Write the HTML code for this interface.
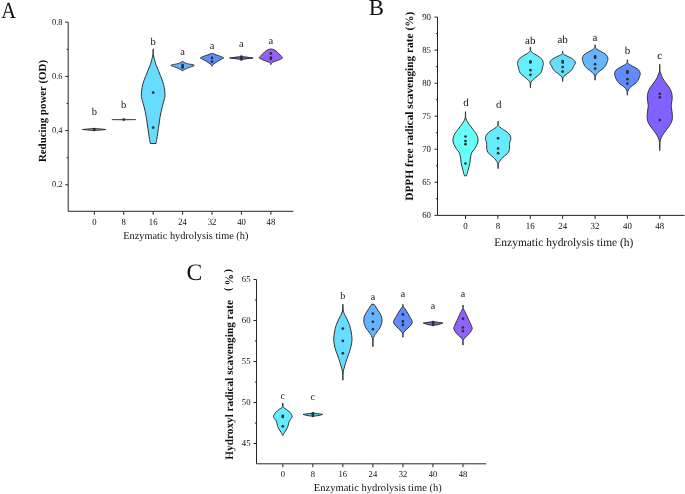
<!DOCTYPE html>
<html><head><meta charset="utf-8"><style>
html,body{margin:0;padding:0;background:#fff;width:685px;height:494px;overflow:hidden;}
svg{display:block;font-family:"Liberation Serif",serif;text-rendering:geometricPrecision;filter:blur(0.3px);}
</style></head><body><svg width="685" height="494" viewBox="0 0 685 494" font-family='"Liberation Serif", serif'><text x="0.00" y="0.00" font-size="23.20" text-anchor="start" font-weight="normal" fill="#111" stroke="#111" stroke-width="0.00" transform="translate(1.2 18.3) scale(0.885 1)">A</text><path d="M68.20 22.20 V211.30 H293.30" fill="none" stroke="#262626" stroke-width="1"/><path d="M65.20 22.20 H68.20" stroke="#262626" stroke-width="1"/><text x="0" y="0" font-size="8.90" text-anchor="end" fill="#111" stroke="#111" stroke-width="0" transform="translate(62.50 24.60) scale(0.950 1)">0.8</text><path d="M65.20 76.40 H68.20" stroke="#262626" stroke-width="1"/><text x="0" y="0" font-size="8.90" text-anchor="end" fill="#111" stroke="#111" stroke-width="0" transform="translate(62.50 78.80) scale(0.950 1)">0.6</text><path d="M65.20 130.60 H68.20" stroke="#262626" stroke-width="1"/><text x="0" y="0" font-size="8.90" text-anchor="end" fill="#111" stroke="#111" stroke-width="0" transform="translate(62.50 133.00) scale(0.950 1)">0.4</text><path d="M65.20 184.80 H68.20" stroke="#262626" stroke-width="1"/><text x="0" y="0" font-size="8.90" text-anchor="end" fill="#111" stroke="#111" stroke-width="0" transform="translate(62.50 187.20) scale(0.950 1)">0.2</text><path d="M66.60 49.30 H68.20" stroke="#262626" stroke-width="1"/><path d="M66.60 103.50 H68.20" stroke="#262626" stroke-width="1"/><path d="M66.60 157.70 H68.20" stroke="#262626" stroke-width="1"/><path d="M94.30 211.30 V214.80" stroke="#262626" stroke-width="1"/><text x="0" y="0" font-size="9.60" text-anchor="middle" fill="#111" stroke="#111" stroke-width="0" transform="translate(94.30 224.70) scale(0.900 1)">0</text><path d="M123.73 211.30 V214.80" stroke="#262626" stroke-width="1"/><text x="0" y="0" font-size="9.60" text-anchor="middle" fill="#111" stroke="#111" stroke-width="0" transform="translate(123.73 224.70) scale(0.900 1)">8</text><path d="M153.16 211.30 V214.80" stroke="#262626" stroke-width="1"/><text x="0" y="0" font-size="9.60" text-anchor="middle" fill="#111" stroke="#111" stroke-width="0" transform="translate(153.16 224.70) scale(0.900 1)">16</text><path d="M182.59 211.30 V214.80" stroke="#262626" stroke-width="1"/><text x="0" y="0" font-size="9.60" text-anchor="middle" fill="#111" stroke="#111" stroke-width="0" transform="translate(182.59 224.70) scale(0.900 1)">24</text><path d="M212.02 211.30 V214.80" stroke="#262626" stroke-width="1"/><text x="0" y="0" font-size="9.60" text-anchor="middle" fill="#111" stroke="#111" stroke-width="0" transform="translate(212.02 224.70) scale(0.900 1)">32</text><path d="M241.45 211.30 V214.80" stroke="#262626" stroke-width="1"/><text x="0" y="0" font-size="9.60" text-anchor="middle" fill="#111" stroke="#111" stroke-width="0" transform="translate(241.45 224.70) scale(0.900 1)">40</text><path d="M270.88 211.30 V214.80" stroke="#262626" stroke-width="1"/><text x="0" y="0" font-size="9.60" text-anchor="middle" fill="#111" stroke="#111" stroke-width="0" transform="translate(270.88 224.70) scale(0.900 1)">48</text><text x="185.80" y="238.80" font-size="10.32" text-anchor="middle" font-weight="normal" fill="#111" stroke="#111" stroke-width="0.00" >Enzymatic hydrolysis time (h)</text><text x="45.60" y="111.00" font-size="10.92" text-anchor="middle" font-weight="bold" fill="#111" stroke="#111" stroke-width="0.00" transform="rotate(-90 45.6 111.0)">Reducing power (OD)</text><path d="M82.40 129.50 Q94.20 127.50 106.00 129.50 Q94.20 131.50 82.40 129.50 Z" fill="#66e4ff" stroke="#333333" stroke-width="1" stroke-linejoin="round"/><circle cx="94.20" cy="129.00" r="1.35" fill="#2e2e2e"/><circle cx="94.20" cy="130.00" r="1.35" fill="#2e2e2e"/><path d="M111.90 119.60 Q123.80 119.10 135.70 119.60 Q123.80 120.10 111.90 119.60 Z" fill="#777" stroke="#555" stroke-width="1" stroke-linejoin="round"/><circle cx="123.80" cy="119.60" r="1.35" fill="#2e2e2e"/><path d="M153.28 48.90 C153.29 49.42 153.30 50.98 153.32 52.00 C153.34 53.02 153.20 53.75 153.40 55.00 C153.60 56.25 154.06 57.82 154.51 59.50 C154.96 61.18 155.46 63.25 156.11 65.10 C156.76 66.95 157.66 68.75 158.41 70.60 C159.16 72.45 159.88 74.33 160.61 76.20 C161.34 78.07 162.21 79.93 162.81 81.80 C163.41 83.67 163.86 85.53 164.21 87.40 C164.56 89.27 164.79 91.48 164.91 93.00 C165.03 94.52 165.06 95.23 164.91 96.50 C164.76 97.77 164.43 98.98 164.01 100.60 C163.59 102.22 162.89 104.35 162.41 106.20 C161.93 108.05 161.51 109.85 161.11 111.70 C160.71 113.55 160.33 115.43 160.01 117.30 C159.69 119.17 159.48 121.03 159.21 122.90 C158.94 124.77 158.68 126.65 158.41 128.50 C158.14 130.35 157.89 132.15 157.61 134.00 C157.33 135.85 156.98 138.02 156.71 139.60 C156.44 141.18 156.13 142.85 156.01 143.50 L150.31 143.50 C150.19 142.85 149.88 141.18 149.61 139.60 C149.34 138.02 148.99 135.85 148.71 134.00 C148.43 132.15 148.18 130.35 147.91 128.50 C147.64 126.65 147.38 124.77 147.11 122.90 C146.84 121.03 146.63 119.17 146.31 117.30 C145.99 115.43 145.61 113.55 145.21 111.70 C144.81 109.85 144.39 108.05 143.91 106.20 C143.43 104.35 142.73 102.22 142.31 100.60 C141.89 98.98 141.56 97.77 141.41 96.50 C141.26 95.23 141.29 94.52 141.41 93.00 C141.53 91.48 141.76 89.27 142.11 87.40 C142.46 85.53 142.91 83.67 143.51 81.80 C144.11 79.93 144.98 78.07 145.71 76.20 C146.44 74.33 147.16 72.45 147.91 70.60 C148.66 68.75 149.56 66.95 150.21 65.10 C150.86 63.25 151.36 61.18 151.81 59.50 C152.26 57.82 152.72 56.25 152.92 55.00 C153.12 53.75 152.98 53.02 153.00 52.00 C153.02 50.98 153.03 49.42 153.04 48.90 Z" fill="#66ddff" stroke="#333333" stroke-width="1" stroke-linejoin="round"/><circle cx="153.16" cy="92.60" r="1.35" fill="#2e2e2e"/><circle cx="153.16" cy="127.60" r="1.35" fill="#2e2e2e"/><path d="M182.67 61.00 C182.76 61.17 182.81 61.67 183.24 62.00 C183.67 62.33 184.41 62.68 185.24 63.00 C186.07 63.32 186.74 63.52 188.24 63.90 C189.74 64.28 194.24 64.65 194.24 65.30 C194.24 65.95 189.74 67.17 188.24 67.80 C186.74 68.43 186.07 68.68 185.24 69.10 C184.41 69.52 183.67 69.97 183.24 70.30 C182.81 70.63 182.76 70.97 182.67 71.10 L182.51 71.10 C182.41 70.97 182.37 70.63 181.94 70.30 C181.51 69.97 180.77 69.52 179.94 69.10 C179.11 68.68 178.44 68.43 176.94 67.80 C175.44 67.17 170.94 65.95 170.94 65.30 C170.94 64.65 175.44 64.28 176.94 63.90 C178.44 63.52 179.11 63.32 179.94 63.00 C180.77 62.68 181.51 62.33 181.94 62.00 C182.37 61.67 182.41 61.17 182.51 61.00 Z" fill="#62b2ff" stroke="#333333" stroke-width="1" stroke-linejoin="round"/><circle cx="182.59" cy="65.00" r="1.35" fill="#2e2e2e"/><circle cx="182.59" cy="66.40" r="1.35" fill="#2e2e2e"/><circle cx="182.59" cy="67.60" r="1.35" fill="#2e2e2e"/><path d="M212.22 53.30 C212.49 53.40 213.21 53.65 213.87 53.90 C214.53 54.15 215.29 54.47 216.17 54.80 C217.05 55.13 218.17 55.52 219.17 55.90 C220.17 56.28 221.42 56.73 222.17 57.10 C222.92 57.47 223.84 57.73 223.67 58.10 C223.50 58.47 222.00 58.87 221.17 59.30 C220.34 59.73 219.50 60.20 218.67 60.70 C217.84 61.20 216.94 61.78 216.17 62.30 C215.40 62.82 214.67 63.33 214.07 63.80 C213.47 64.27 212.89 64.70 212.57 65.10 C212.25 65.50 212.21 66.02 212.14 66.20 L211.90 66.20 C211.83 66.02 211.79 65.50 211.47 65.10 C211.15 64.70 210.57 64.27 209.97 63.80 C209.37 63.33 208.64 62.82 207.87 62.30 C207.10 61.78 206.20 61.20 205.37 60.70 C204.54 60.20 203.70 59.73 202.87 59.30 C202.04 58.87 200.54 58.47 200.37 58.10 C200.20 57.73 201.12 57.47 201.87 57.10 C202.62 56.73 203.87 56.28 204.87 55.90 C205.87 55.52 206.99 55.13 207.87 54.80 C208.75 54.47 209.51 54.15 210.17 53.90 C210.83 53.65 211.54 53.40 211.82 53.30 Z" fill="#628aff" stroke="#333333" stroke-width="1" stroke-linejoin="round"/><circle cx="212.02" cy="57.90" r="1.35" fill="#2e2e2e"/><circle cx="212.02" cy="61.60" r="1.35" fill="#2e2e2e"/><path d="M229.70 58.00 Q241.40 55.20 253.10 58.00 Q241.40 60.80 229.70 58.00 Z" fill="#7868fa" stroke="#333333" stroke-width="1" stroke-linejoin="round"/><circle cx="241.40" cy="56.60" r="1.35" fill="#2e2e2e"/><circle cx="241.40" cy="58.00" r="1.35" fill="#2e2e2e"/><circle cx="241.40" cy="59.40" r="1.35" fill="#2e2e2e"/><path d="M271.33 49.00 C271.61 49.07 272.41 49.18 273.03 49.40 C273.65 49.62 274.36 49.90 275.03 50.30 C275.70 50.70 276.36 51.22 277.03 51.80 C277.70 52.38 278.36 53.12 279.03 53.80 C279.70 54.48 280.45 55.23 281.03 55.90 C281.61 56.57 282.61 57.25 282.53 57.80 C282.45 58.35 281.36 58.77 280.53 59.20 C279.70 59.63 278.50 60.03 277.53 60.40 C276.56 60.77 275.53 61.08 274.73 61.40 C273.93 61.72 273.30 62.02 272.73 62.30 C272.16 62.58 271.62 62.72 271.33 63.10 C271.04 63.48 271.06 64.35 271.00 64.60 L270.76 64.60 C270.70 64.35 270.72 63.48 270.43 63.10 C270.14 62.72 269.60 62.58 269.03 62.30 C268.46 62.02 267.83 61.72 267.03 61.40 C266.23 61.08 265.20 60.77 264.23 60.40 C263.26 60.03 262.06 59.63 261.23 59.20 C260.40 58.77 259.31 58.35 259.23 57.80 C259.15 57.25 260.15 56.57 260.73 55.90 C261.31 55.23 262.06 54.48 262.73 53.80 C263.40 53.12 264.06 52.38 264.73 51.80 C265.40 51.22 266.06 50.70 266.73 50.30 C267.40 49.90 268.11 49.62 268.73 49.40 C269.35 49.18 270.15 49.07 270.43 49.00 Z" fill="#9162fa" stroke="#333333" stroke-width="1" stroke-linejoin="round"/><circle cx="270.88" cy="53.40" r="1.35" fill="#2e2e2e"/><circle cx="270.88" cy="57.60" r="1.35" fill="#2e2e2e"/><circle cx="270.88" cy="58.90" r="1.35" fill="#2e2e2e"/><text x="94.30" y="115.00" font-size="10.50" text-anchor="middle" font-weight="normal" fill="#111" stroke="#111" stroke-width="0.00" >b</text><text x="123.73" y="108.30" font-size="10.50" text-anchor="middle" font-weight="normal" fill="#111" stroke="#111" stroke-width="0.00" >b</text><text x="153.16" y="44.50" font-size="10.50" text-anchor="middle" font-weight="normal" fill="#111" stroke="#111" stroke-width="0.00" >b</text><text x="182.59" y="54.80" font-size="10.50" text-anchor="middle" font-weight="normal" fill="#111" stroke="#111" stroke-width="0.00" >a</text><text x="212.02" y="48.90" font-size="10.50" text-anchor="middle" font-weight="normal" fill="#111" stroke="#111" stroke-width="0.00" >a</text><text x="241.45" y="46.70" font-size="10.50" text-anchor="middle" font-weight="normal" fill="#111" stroke="#111" stroke-width="0.00" >a</text><text x="270.88" y="43.70" font-size="10.50" text-anchor="middle" font-weight="normal" fill="#111" stroke="#111" stroke-width="0.00" >a</text><text x="368.80" y="15.20" font-size="22.80" text-anchor="start" font-weight="normal" fill="#111" stroke="#111" stroke-width="0.00" >B</text><path d="M437.50 17.10 V215.40 H684.50" fill="none" stroke="#262626" stroke-width="1"/><path d="M434.50 17.10 H437.50" stroke="#262626" stroke-width="1"/><text x="0" y="0" font-size="9.30" text-anchor="end" fill="#111" stroke="#111" stroke-width="0" transform="translate(431.00 19.80) scale(0.950 1)">90</text><path d="M434.50 50.14 H437.50" stroke="#262626" stroke-width="1"/><text x="0" y="0" font-size="9.30" text-anchor="end" fill="#111" stroke="#111" stroke-width="0" transform="translate(431.00 52.84) scale(0.950 1)">85</text><path d="M434.50 83.17 H437.50" stroke="#262626" stroke-width="1"/><text x="0" y="0" font-size="9.30" text-anchor="end" fill="#111" stroke="#111" stroke-width="0" transform="translate(431.00 85.87) scale(0.950 1)">80</text><path d="M434.50 116.21 H437.50" stroke="#262626" stroke-width="1"/><text x="0" y="0" font-size="9.30" text-anchor="end" fill="#111" stroke="#111" stroke-width="0" transform="translate(431.00 118.91) scale(0.950 1)">75</text><path d="M434.50 149.24 H437.50" stroke="#262626" stroke-width="1"/><text x="0" y="0" font-size="9.30" text-anchor="end" fill="#111" stroke="#111" stroke-width="0" transform="translate(431.00 151.94) scale(0.950 1)">70</text><path d="M434.50 182.28 H437.50" stroke="#262626" stroke-width="1"/><text x="0" y="0" font-size="9.30" text-anchor="end" fill="#111" stroke="#111" stroke-width="0" transform="translate(431.00 184.97) scale(0.950 1)">65</text><path d="M434.50 215.31 H437.50" stroke="#262626" stroke-width="1"/><text x="0" y="0" font-size="9.30" text-anchor="end" fill="#111" stroke="#111" stroke-width="0" transform="translate(431.00 218.01) scale(0.950 1)">60</text><path d="M435.90 33.62 H437.50" stroke="#262626" stroke-width="1"/><path d="M435.90 66.65 H437.50" stroke="#262626" stroke-width="1"/><path d="M435.90 99.69 H437.50" stroke="#262626" stroke-width="1"/><path d="M435.90 132.72 H437.50" stroke="#262626" stroke-width="1"/><path d="M435.90 165.76 H437.50" stroke="#262626" stroke-width="1"/><path d="M435.90 198.79 H437.50" stroke="#262626" stroke-width="1"/><path d="M465.50 215.40 V218.90" stroke="#262626" stroke-width="1"/><text x="0" y="0" font-size="9.30" text-anchor="middle" fill="#111" stroke="#111" stroke-width="0" transform="translate(465.50 229.40) scale(0.950 1)">0</text><path d="M497.88 215.40 V218.90" stroke="#262626" stroke-width="1"/><text x="0" y="0" font-size="9.30" text-anchor="middle" fill="#111" stroke="#111" stroke-width="0" transform="translate(497.88 229.40) scale(0.950 1)">8</text><path d="M530.26 215.40 V218.90" stroke="#262626" stroke-width="1"/><text x="0" y="0" font-size="9.30" text-anchor="middle" fill="#111" stroke="#111" stroke-width="0" transform="translate(530.26 229.40) scale(0.950 1)">16</text><path d="M562.64 215.40 V218.90" stroke="#262626" stroke-width="1"/><text x="0" y="0" font-size="9.30" text-anchor="middle" fill="#111" stroke="#111" stroke-width="0" transform="translate(562.64 229.40) scale(0.950 1)">24</text><path d="M595.02 215.40 V218.90" stroke="#262626" stroke-width="1"/><text x="0" y="0" font-size="9.30" text-anchor="middle" fill="#111" stroke="#111" stroke-width="0" transform="translate(595.02 229.40) scale(0.950 1)">32</text><path d="M627.40 215.40 V218.90" stroke="#262626" stroke-width="1"/><text x="0" y="0" font-size="9.30" text-anchor="middle" fill="#111" stroke="#111" stroke-width="0" transform="translate(627.40 229.40) scale(0.950 1)">40</text><path d="M659.78 215.40 V218.90" stroke="#262626" stroke-width="1"/><text x="0" y="0" font-size="9.30" text-anchor="middle" fill="#111" stroke="#111" stroke-width="0" transform="translate(659.78 229.40) scale(0.950 1)">48</text><text x="563.85" y="245.60" font-size="11.46" text-anchor="middle" font-weight="normal" fill="#111" stroke="#111" stroke-width="0.00" >Enzymatic hydrolysis time (h)</text><text x="412.90" y="106.20" font-size="11.35" text-anchor="middle" font-weight="bold" fill="#111" stroke="#111" stroke-width="0.00" transform="rotate(-90 412.9 106.2)">DPPH free radical scavenging rate (%)</text><path d="M465.62 111.80 C465.63 112.25 465.64 113.57 465.66 114.50 C465.68 115.43 465.54 116.35 465.74 117.40 C465.94 118.45 466.20 119.53 466.85 120.80 C467.50 122.07 468.65 123.58 469.65 125.00 C470.65 126.42 471.78 127.88 472.85 129.30 C473.92 130.72 475.23 132.08 476.05 133.50 C476.87 134.92 477.43 136.38 477.75 137.80 C478.07 139.22 478.23 140.58 477.95 142.00 C477.67 143.42 476.70 145.02 476.05 146.30 C475.40 147.58 474.72 148.73 474.05 149.70 C473.38 150.67 472.58 151.12 472.05 152.10 C471.52 153.08 471.15 154.42 470.85 155.60 C470.55 156.78 470.40 158.02 470.25 159.20 C470.10 160.38 470.15 161.53 469.95 162.70 C469.75 163.87 469.33 165.02 469.05 166.20 C468.77 167.38 468.55 168.62 468.25 169.80 C467.95 170.98 467.53 172.30 467.25 173.30 C466.97 174.30 466.67 175.38 466.55 175.80 L464.45 175.80 C464.33 175.38 464.03 174.30 463.75 173.30 C463.47 172.30 463.05 170.98 462.75 169.80 C462.45 168.62 462.23 167.38 461.95 166.20 C461.67 165.02 461.25 163.87 461.05 162.70 C460.85 161.53 460.90 160.38 460.75 159.20 C460.60 158.02 460.45 156.78 460.15 155.60 C459.85 154.42 459.48 153.08 458.95 152.10 C458.42 151.12 457.62 150.67 456.95 149.70 C456.28 148.73 455.60 147.58 454.95 146.30 C454.30 145.02 453.33 143.42 453.05 142.00 C452.77 140.58 452.93 139.22 453.25 137.80 C453.57 136.38 454.13 134.92 454.95 133.50 C455.77 132.08 457.08 130.72 458.15 129.30 C459.22 127.88 460.35 126.42 461.35 125.00 C462.35 123.58 463.50 122.07 464.15 120.80 C464.80 119.53 465.06 118.45 465.26 117.40 C465.46 116.35 465.32 115.43 465.34 114.50 C465.36 113.57 465.37 112.25 465.38 111.80 Z" fill="#66fffa" stroke="#333333" stroke-width="1" stroke-linejoin="round"/><circle cx="465.50" cy="136.50" r="1.35" fill="#2e2e2e"/><circle cx="465.50" cy="141.00" r="1.35" fill="#2e2e2e"/><circle cx="465.50" cy="144.20" r="1.35" fill="#2e2e2e"/><circle cx="465.50" cy="163.50" r="1.35" fill="#2e2e2e"/><path d="M498.22 121.20 C498.23 121.58 498.25 122.78 498.26 123.50 C498.27 124.22 498.10 124.96 498.30 125.50 C498.50 126.04 498.96 126.30 499.45 126.75 C499.94 127.20 500.57 127.71 501.25 128.20 C501.93 128.69 502.78 129.22 503.55 129.70 C504.32 130.18 505.15 130.62 505.85 131.10 C506.55 131.58 507.22 132.12 507.75 132.60 C508.28 133.08 508.67 133.52 509.05 134.00 C509.43 134.48 509.78 134.93 510.05 135.50 C510.32 136.07 510.52 136.82 510.65 137.40 C510.78 137.98 510.90 138.47 510.85 139.00 C510.80 139.53 510.57 139.90 510.35 140.60 C510.13 141.30 509.68 142.33 509.55 143.20 C509.42 144.07 509.55 144.93 509.55 145.80 C509.55 146.67 509.65 147.53 509.55 148.40 C509.45 149.27 509.32 150.13 508.95 151.00 C508.58 151.87 508.12 152.75 507.35 153.60 C506.58 154.45 505.33 155.25 504.35 156.10 C503.37 156.95 502.25 157.83 501.45 158.70 C500.65 159.57 500.03 160.53 499.55 161.30 C499.07 162.07 498.76 162.65 498.55 163.30 C498.34 163.95 498.36 164.33 498.30 165.20 C498.25 166.07 498.23 167.95 498.22 168.50 L497.98 168.50 C497.97 167.95 497.96 166.07 497.90 165.20 C497.85 164.33 497.86 163.95 497.65 163.30 C497.44 162.65 497.13 162.07 496.65 161.30 C496.17 160.53 495.55 159.57 494.75 158.70 C493.95 157.83 492.83 156.95 491.85 156.10 C490.87 155.25 489.62 154.45 488.85 153.60 C488.08 152.75 487.62 151.87 487.25 151.00 C486.88 150.13 486.75 149.27 486.65 148.40 C486.55 147.53 486.65 146.67 486.65 145.80 C486.65 144.93 486.78 144.07 486.65 143.20 C486.52 142.33 486.07 141.30 485.85 140.60 C485.63 139.90 485.40 139.53 485.35 139.00 C485.30 138.47 485.42 137.98 485.55 137.40 C485.68 136.82 485.88 136.07 486.15 135.50 C486.42 134.93 486.77 134.48 487.15 134.00 C487.53 133.52 487.92 133.08 488.45 132.60 C488.98 132.12 489.65 131.58 490.35 131.10 C491.05 130.62 491.88 130.18 492.65 129.70 C493.42 129.22 494.27 128.69 494.95 128.20 C495.63 127.71 496.26 127.20 496.75 126.75 C497.24 126.30 497.70 126.04 497.90 125.50 C498.10 124.96 497.93 124.22 497.94 123.50 C497.95 122.78 497.97 121.58 497.98 121.20 Z" fill="#66ebff" stroke="#333333" stroke-width="1" stroke-linejoin="round"/><circle cx="498.10" cy="138.30" r="1.35" fill="#2e2e2e"/><circle cx="498.10" cy="148.50" r="1.35" fill="#2e2e2e"/><circle cx="498.10" cy="153.20" r="1.35" fill="#2e2e2e"/><path d="M530.57 47.00 C530.58 47.33 530.60 48.38 530.61 49.00 C530.62 49.62 530.50 50.27 530.65 50.70 C530.80 51.13 531.16 51.23 531.50 51.60 C531.84 51.97 532.15 52.47 532.70 52.90 C533.25 53.33 534.07 53.77 534.80 54.20 C535.53 54.63 536.37 55.07 537.10 55.50 C537.83 55.93 538.58 56.37 539.20 56.80 C539.82 57.23 540.33 57.65 540.80 58.10 C541.27 58.55 541.67 59.05 542.00 59.50 C542.33 59.95 542.60 60.30 542.80 60.80 C543.00 61.30 543.10 61.92 543.20 62.50 C543.30 63.08 543.48 63.62 543.40 64.30 C543.32 64.98 542.92 65.77 542.70 66.60 C542.48 67.43 542.33 68.42 542.10 69.30 C541.87 70.18 541.75 71.03 541.30 71.90 C540.85 72.77 540.28 73.62 539.40 74.50 C538.52 75.38 537.08 76.32 536.00 77.20 C534.92 78.08 533.71 79.02 532.90 79.80 C532.09 80.58 531.53 81.20 531.15 81.90 C530.78 82.60 530.75 83.03 530.65 84.00 C530.55 84.97 530.58 87.08 530.57 87.70 L530.33 87.70 C530.32 87.08 530.35 84.97 530.25 84.00 C530.15 83.03 530.12 82.60 529.75 81.90 C529.38 81.20 528.81 80.58 528.00 79.80 C527.19 79.02 525.98 78.08 524.90 77.20 C523.82 76.32 522.38 75.38 521.50 74.50 C520.62 73.62 520.05 72.77 519.60 71.90 C519.15 71.03 519.03 70.18 518.80 69.30 C518.57 68.42 518.42 67.43 518.20 66.60 C517.98 65.77 517.58 64.98 517.50 64.30 C517.42 63.62 517.60 63.08 517.70 62.50 C517.80 61.92 517.90 61.30 518.10 60.80 C518.30 60.30 518.57 59.95 518.90 59.50 C519.23 59.05 519.63 58.55 520.10 58.10 C520.57 57.65 521.08 57.23 521.70 56.80 C522.32 56.37 523.07 55.93 523.80 55.50 C524.53 55.07 525.37 54.63 526.10 54.20 C526.83 53.77 527.65 53.33 528.20 52.90 C528.75 52.47 529.06 51.97 529.40 51.60 C529.74 51.23 530.10 51.13 530.25 50.70 C530.40 50.27 530.28 49.62 530.29 49.00 C530.30 48.38 530.32 47.33 530.33 47.00 Z" fill="#66eeff" stroke="#333333" stroke-width="1" stroke-linejoin="round"/><circle cx="530.45" cy="61.40" r="1.35" fill="#2e2e2e"/><circle cx="530.45" cy="62.50" r="1.35" fill="#2e2e2e"/><circle cx="530.45" cy="70.20" r="1.35" fill="#2e2e2e"/><circle cx="530.45" cy="74.80" r="1.35" fill="#2e2e2e"/><path d="M562.77 51.00 C562.78 51.22 562.80 51.90 562.81 52.30 C562.82 52.70 562.70 53.07 562.85 53.40 C563.00 53.73 563.17 53.93 563.70 54.30 C564.22 54.67 565.15 55.17 566.00 55.60 C566.85 56.03 567.90 56.47 568.80 56.90 C569.70 57.33 570.63 57.77 571.40 58.20 C572.17 58.63 572.87 59.07 573.40 59.50 C573.93 59.93 574.28 60.37 574.60 60.80 C574.92 61.23 575.17 61.68 575.30 62.10 C575.43 62.52 575.47 62.95 575.40 63.30 C575.33 63.65 575.22 63.67 574.90 64.20 C574.58 64.73 573.90 65.75 573.50 66.50 C573.10 67.25 572.95 67.97 572.50 68.70 C572.05 69.43 571.57 70.17 570.80 70.90 C570.03 71.63 568.87 72.35 567.90 73.10 C566.93 73.85 565.77 74.73 565.00 75.40 C564.23 76.07 563.66 76.52 563.30 77.10 C562.94 77.68 562.94 78.18 562.85 78.90 C562.76 79.62 562.78 80.98 562.77 81.40 L562.53 81.40 C562.52 80.98 562.54 79.62 562.45 78.90 C562.36 78.18 562.36 77.68 562.00 77.10 C561.64 76.52 561.07 76.07 560.30 75.40 C559.53 74.73 558.37 73.85 557.40 73.10 C556.43 72.35 555.27 71.63 554.50 70.90 C553.73 70.17 553.25 69.43 552.80 68.70 C552.35 67.97 552.20 67.25 551.80 66.50 C551.40 65.75 550.72 64.73 550.40 64.20 C550.08 63.67 549.97 63.65 549.90 63.30 C549.83 62.95 549.87 62.52 550.00 62.10 C550.13 61.68 550.38 61.23 550.70 60.80 C551.02 60.37 551.37 59.93 551.90 59.50 C552.43 59.07 553.13 58.63 553.90 58.20 C554.67 57.77 555.60 57.33 556.50 56.90 C557.40 56.47 558.45 56.03 559.30 55.60 C560.15 55.17 561.08 54.67 561.60 54.30 C562.12 53.93 562.30 53.73 562.45 53.40 C562.60 53.07 562.48 52.70 562.49 52.30 C562.50 51.90 562.52 51.22 562.53 51.00 Z" fill="#66dcff" stroke="#333333" stroke-width="1" stroke-linejoin="round"/><circle cx="562.65" cy="61.00" r="1.35" fill="#2e2e2e"/><circle cx="562.65" cy="62.40" r="1.35" fill="#2e2e2e"/><circle cx="562.65" cy="67.10" r="1.35" fill="#2e2e2e"/><circle cx="562.65" cy="71.60" r="1.35" fill="#2e2e2e"/><path d="M595.22 44.80 C595.23 45.05 595.25 45.82 595.26 46.30 C595.27 46.78 595.15 47.32 595.30 47.70 C595.45 48.08 595.71 48.23 596.15 48.60 C596.59 48.97 597.27 49.47 597.95 49.90 C598.63 50.33 599.45 50.77 600.25 51.20 C601.05 51.63 601.97 52.07 602.75 52.50 C603.53 52.93 604.33 53.37 604.95 53.80 C605.57 54.23 606.05 54.65 606.45 55.10 C606.85 55.55 607.13 56.05 607.35 56.50 C607.57 56.95 607.65 57.35 607.75 57.80 C607.85 58.25 607.97 58.77 607.95 59.20 C607.93 59.63 607.83 59.78 607.65 60.40 C607.47 61.02 607.17 62.08 606.85 62.90 C606.53 63.72 606.23 64.50 605.75 65.30 C605.27 66.10 604.75 66.90 603.95 67.70 C603.15 68.50 601.98 69.28 600.95 70.10 C599.92 70.92 598.58 71.78 597.75 72.60 C596.92 73.42 596.36 74.20 595.95 75.00 C595.54 75.80 595.42 76.55 595.30 77.40 C595.18 78.25 595.23 79.65 595.22 80.10 L594.98 80.10 C594.97 79.65 595.02 78.25 594.90 77.40 C594.78 76.55 594.66 75.80 594.25 75.00 C593.84 74.20 593.28 73.42 592.45 72.60 C591.62 71.78 590.28 70.92 589.25 70.10 C588.22 69.28 587.05 68.50 586.25 67.70 C585.45 66.90 584.93 66.10 584.45 65.30 C583.97 64.50 583.67 63.72 583.35 62.90 C583.03 62.08 582.73 61.02 582.55 60.40 C582.37 59.78 582.27 59.63 582.25 59.20 C582.23 58.77 582.35 58.25 582.45 57.80 C582.55 57.35 582.63 56.95 582.85 56.50 C583.07 56.05 583.35 55.55 583.75 55.10 C584.15 54.65 584.63 54.23 585.25 53.80 C585.87 53.37 586.67 52.93 587.45 52.50 C588.23 52.07 589.15 51.63 589.95 51.20 C590.75 50.77 591.57 50.33 592.25 49.90 C592.93 49.47 593.61 48.97 594.05 48.60 C594.49 48.23 594.75 48.08 594.90 47.70 C595.05 47.32 594.93 46.78 594.94 46.30 C594.95 45.82 594.97 45.05 594.98 44.80 Z" fill="#66b5ff" stroke="#333333" stroke-width="1" stroke-linejoin="round"/><circle cx="595.10" cy="56.40" r="1.35" fill="#2e2e2e"/><circle cx="595.10" cy="57.80" r="1.35" fill="#2e2e2e"/><circle cx="595.10" cy="64.20" r="1.35" fill="#2e2e2e"/><circle cx="595.10" cy="68.60" r="1.35" fill="#2e2e2e"/><path d="M627.52 59.80 C627.53 60.05 627.55 60.82 627.56 61.30 C627.57 61.78 627.45 62.32 627.60 62.70 C627.75 63.08 628.01 63.23 628.45 63.60 C628.89 63.97 629.57 64.47 630.25 64.90 C630.93 65.33 631.75 65.77 632.55 66.20 C633.35 66.63 634.27 67.07 635.05 67.50 C635.83 67.93 636.63 68.37 637.25 68.80 C637.87 69.23 638.35 69.65 638.75 70.10 C639.15 70.55 639.43 71.05 639.65 71.50 C639.87 71.95 639.95 72.35 640.05 72.80 C640.15 73.25 640.27 73.77 640.25 74.20 C640.23 74.63 640.13 74.78 639.95 75.40 C639.77 76.02 639.47 77.08 639.15 77.90 C638.83 78.72 638.53 79.50 638.05 80.30 C637.57 81.10 637.05 81.90 636.25 82.70 C635.45 83.50 634.28 84.28 633.25 85.10 C632.22 85.92 630.88 86.78 630.05 87.60 C629.22 88.42 628.66 89.20 628.25 90.00 C627.84 90.80 627.72 91.55 627.60 92.40 C627.48 93.25 627.53 94.65 627.52 95.10 L627.28 95.10 C627.27 94.65 627.32 93.25 627.20 92.40 C627.08 91.55 626.96 90.80 626.55 90.00 C626.14 89.20 625.58 88.42 624.75 87.60 C623.92 86.78 622.58 85.92 621.55 85.10 C620.52 84.28 619.35 83.50 618.55 82.70 C617.75 81.90 617.23 81.10 616.75 80.30 C616.27 79.50 615.97 78.72 615.65 77.90 C615.33 77.08 615.03 76.02 614.85 75.40 C614.67 74.78 614.57 74.63 614.55 74.20 C614.53 73.77 614.65 73.25 614.75 72.80 C614.85 72.35 614.93 71.95 615.15 71.50 C615.37 71.05 615.65 70.55 616.05 70.10 C616.45 69.65 616.93 69.23 617.55 68.80 C618.17 68.37 618.97 67.93 619.75 67.50 C620.53 67.07 621.45 66.63 622.25 66.20 C623.05 65.77 623.87 65.33 624.55 64.90 C625.23 64.47 625.91 63.97 626.35 63.60 C626.79 63.23 627.05 63.08 627.20 62.70 C627.35 62.32 627.23 61.78 627.24 61.30 C627.25 60.82 627.27 60.05 627.28 59.80 Z" fill="#628aff" stroke="#333333" stroke-width="1" stroke-linejoin="round"/><circle cx="627.40" cy="71.40" r="1.35" fill="#2e2e2e"/><circle cx="627.40" cy="72.80" r="1.35" fill="#2e2e2e"/><circle cx="627.40" cy="79.20" r="1.35" fill="#2e2e2e"/><circle cx="627.40" cy="83.60" r="1.35" fill="#2e2e2e"/><path d="M659.87 64.30 C659.88 64.83 659.89 66.37 659.91 67.50 C659.93 68.63 659.88 70.20 659.99 71.10 C660.11 72.00 660.35 72.18 660.60 72.90 C660.85 73.62 661.20 74.58 661.50 75.40 C661.80 76.22 662.00 77.00 662.40 77.80 C662.80 78.60 663.37 79.40 663.90 80.20 C664.43 81.00 665.02 81.78 665.60 82.60 C666.18 83.42 666.78 84.28 667.40 85.10 C668.02 85.92 668.78 86.70 669.30 87.50 C669.82 88.30 670.17 89.15 670.50 89.90 C670.83 90.65 671.03 91.08 671.30 92.00 C671.57 92.92 671.98 93.98 672.10 95.40 C672.22 96.82 672.15 98.82 672.00 100.50 C671.85 102.18 671.23 103.90 671.20 105.50 C671.17 107.10 671.62 108.50 671.80 110.10 C671.98 111.70 672.25 113.42 672.30 115.10 C672.35 116.78 672.52 118.52 672.10 120.20 C671.68 121.88 670.82 123.52 669.80 125.20 C668.78 126.88 667.23 128.60 666.00 130.30 C664.77 132.00 663.30 133.88 662.40 135.40 C661.50 136.92 661.00 138.23 660.60 139.40 C660.20 140.57 660.11 141.30 659.99 142.40 C659.88 143.50 659.93 144.65 659.91 146.00 C659.89 147.35 659.88 149.75 659.87 150.50 L659.63 150.50 C659.62 149.75 659.61 147.35 659.59 146.00 C659.57 144.65 659.62 143.50 659.51 142.40 C659.39 141.30 659.30 140.57 658.90 139.40 C658.50 138.23 658.00 136.92 657.10 135.40 C656.20 133.88 654.73 132.00 653.50 130.30 C652.27 128.60 650.72 126.88 649.70 125.20 C648.68 123.52 647.82 121.88 647.40 120.20 C646.98 118.52 647.15 116.78 647.20 115.10 C647.25 113.42 647.52 111.70 647.70 110.10 C647.88 108.50 648.33 107.10 648.30 105.50 C648.27 103.90 647.65 102.18 647.50 100.50 C647.35 98.82 647.28 96.82 647.40 95.40 C647.52 93.98 647.93 92.92 648.20 92.00 C648.47 91.08 648.67 90.65 649.00 89.90 C649.33 89.15 649.68 88.30 650.20 87.50 C650.72 86.70 651.48 85.92 652.10 85.10 C652.72 84.28 653.32 83.42 653.90 82.60 C654.48 81.78 655.07 81.00 655.60 80.20 C656.13 79.40 656.70 78.60 657.10 77.80 C657.50 77.00 657.70 76.22 658.00 75.40 C658.30 74.58 658.65 73.62 658.90 72.90 C659.15 72.18 659.39 72.00 659.51 71.10 C659.62 70.20 659.57 68.63 659.59 67.50 C659.61 66.37 659.62 64.83 659.63 64.30 Z" fill="#7f62ff" stroke="#333333" stroke-width="1" stroke-linejoin="round"/><circle cx="659.75" cy="93.90" r="1.35" fill="#2e2e2e"/><circle cx="659.75" cy="97.40" r="1.35" fill="#2e2e2e"/><circle cx="659.75" cy="120.00" r="1.35" fill="#2e2e2e"/><text x="466.10" y="106.40" font-size="11.00" text-anchor="middle" font-weight="normal" fill="#111" stroke="#111" stroke-width="0.00" >d</text><text x="498.68" y="107.50" font-size="11.00" text-anchor="middle" font-weight="normal" fill="#111" stroke="#111" stroke-width="0.00" >d</text><text x="530.26" y="44.30" font-size="11.00" text-anchor="middle" font-weight="normal" fill="#111" stroke="#111" stroke-width="0.00" >ab</text><text x="562.64" y="43.00" font-size="11.00" text-anchor="middle" font-weight="normal" fill="#111" stroke="#111" stroke-width="0.00" >ab</text><text x="595.02" y="41.00" font-size="11.00" text-anchor="middle" font-weight="normal" fill="#111" stroke="#111" stroke-width="0.00" >a</text><text x="627.40" y="54.10" font-size="11.00" text-anchor="middle" font-weight="normal" fill="#111" stroke="#111" stroke-width="0.00" >b</text><text x="659.78" y="59.00" font-size="11.00" text-anchor="middle" font-weight="normal" fill="#111" stroke="#111" stroke-width="0.00" >c</text><text x="186.40" y="280.20" font-size="23.60" text-anchor="start" font-weight="normal" fill="#111" stroke="#111" stroke-width="0.00" >C</text><path d="M256.50 279.50 V463.80 H486.20" fill="none" stroke="#262626" stroke-width="1"/><path d="M253.50 279.50 H256.50" stroke="#262626" stroke-width="1"/><text x="0" y="0" font-size="9.20" text-anchor="end" fill="#111" stroke="#111" stroke-width="0" transform="translate(250.60 282.20) scale(0.950 1)">65</text><path d="M253.50 320.50 H256.50" stroke="#262626" stroke-width="1"/><text x="0" y="0" font-size="9.20" text-anchor="end" fill="#111" stroke="#111" stroke-width="0" transform="translate(250.60 323.20) scale(0.950 1)">60</text><path d="M253.50 361.50 H256.50" stroke="#262626" stroke-width="1"/><text x="0" y="0" font-size="9.20" text-anchor="end" fill="#111" stroke="#111" stroke-width="0" transform="translate(250.60 364.20) scale(0.950 1)">55</text><path d="M253.50 402.50 H256.50" stroke="#262626" stroke-width="1"/><text x="0" y="0" font-size="9.20" text-anchor="end" fill="#111" stroke="#111" stroke-width="0" transform="translate(250.60 405.20) scale(0.950 1)">50</text><path d="M253.50 443.50 H256.50" stroke="#262626" stroke-width="1"/><text x="0" y="0" font-size="9.20" text-anchor="end" fill="#111" stroke="#111" stroke-width="0" transform="translate(250.60 446.20) scale(0.950 1)">45</text><path d="M254.90 300.00 H256.50" stroke="#262626" stroke-width="1"/><path d="M254.90 341.00 H256.50" stroke="#262626" stroke-width="1"/><path d="M254.90 382.00 H256.50" stroke="#262626" stroke-width="1"/><path d="M254.90 423.00 H256.50" stroke="#262626" stroke-width="1"/><path d="M282.80 463.80 V467.30" stroke="#262626" stroke-width="1"/><text x="0" y="0" font-size="9.00" text-anchor="middle" fill="#111" stroke="#111" stroke-width="0" transform="translate(282.80 476.60) scale(0.950 1)">0</text><path d="M312.83 463.80 V467.30" stroke="#262626" stroke-width="1"/><text x="0" y="0" font-size="9.00" text-anchor="middle" fill="#111" stroke="#111" stroke-width="0" transform="translate(312.83 476.60) scale(0.950 1)">8</text><path d="M342.86 463.80 V467.30" stroke="#262626" stroke-width="1"/><text x="0" y="0" font-size="9.00" text-anchor="middle" fill="#111" stroke="#111" stroke-width="0" transform="translate(342.86 476.60) scale(0.950 1)">16</text><path d="M372.89 463.80 V467.30" stroke="#262626" stroke-width="1"/><text x="0" y="0" font-size="9.00" text-anchor="middle" fill="#111" stroke="#111" stroke-width="0" transform="translate(372.89 476.60) scale(0.950 1)">24</text><path d="M402.92 463.80 V467.30" stroke="#262626" stroke-width="1"/><text x="0" y="0" font-size="9.00" text-anchor="middle" fill="#111" stroke="#111" stroke-width="0" transform="translate(402.92 476.60) scale(0.950 1)">32</text><path d="M432.95 463.80 V467.30" stroke="#262626" stroke-width="1"/><text x="0" y="0" font-size="9.00" text-anchor="middle" fill="#111" stroke="#111" stroke-width="0" transform="translate(432.95 476.60) scale(0.950 1)">40</text><path d="M462.98 463.80 V467.30" stroke="#262626" stroke-width="1"/><text x="0" y="0" font-size="9.00" text-anchor="middle" fill="#111" stroke="#111" stroke-width="0" transform="translate(462.98 476.60) scale(0.950 1)">48</text><text x="377.80" y="490.80" font-size="10.55" text-anchor="middle" font-weight="normal" fill="#111" stroke="#111" stroke-width="0.00" >Enzymatic hydrolysis time (h)</text><text x="232.60" y="459.70" font-size="11.28" text-anchor="start" font-weight="bold" fill="#111" stroke="#111" stroke-width="0.00" transform="rotate(-90 232.6 459.7)">Hydroxyl radical scavenging rate</text><text x="231.20" y="291.00" font-size="10.30" text-anchor="start" font-weight="bold" fill="#111" stroke="#111" stroke-width="0.00" transform="rotate(-90 231.2 291.0)">(</text><text x="232.70" y="285.60" font-size="11.60" text-anchor="start" font-weight="bold" fill="#111" stroke="#111" stroke-width="0.00" transform="rotate(-90 232.7 285.6)">%</text><text x="231.20" y="272.60" font-size="10.30" text-anchor="start" font-weight="bold" fill="#111" stroke="#111" stroke-width="0.00" transform="rotate(-90 231.2 272.6)">)</text><path d="M282.92 403.10 C282.93 403.42 282.95 404.43 282.96 405.00 C282.97 405.57 282.87 406.05 283.00 406.50 C283.13 406.95 283.23 407.25 283.75 407.70 C284.27 408.15 285.43 408.68 286.15 409.20 C286.87 409.72 287.42 410.28 288.05 410.80 C288.68 411.32 289.38 411.67 289.95 412.30 C290.52 412.93 291.08 413.90 291.45 414.60 C291.82 415.30 292.18 415.85 292.15 416.50 C292.12 417.15 291.68 417.78 291.25 418.50 C290.82 419.22 289.98 420.03 289.55 420.80 C289.12 421.57 288.87 422.33 288.65 423.10 C288.43 423.87 288.47 424.63 288.25 425.40 C288.03 426.17 287.70 426.93 287.35 427.70 C287.00 428.47 286.62 429.23 286.15 430.00 C285.68 430.77 285.00 431.53 284.55 432.30 C284.10 433.07 283.71 434.07 283.45 434.60 C283.19 435.13 283.07 435.35 283.00 435.50 L282.60 435.50 C282.53 435.35 282.41 435.13 282.15 434.60 C281.89 434.07 281.50 433.07 281.05 432.30 C280.60 431.53 279.92 430.77 279.45 430.00 C278.98 429.23 278.60 428.47 278.25 427.70 C277.90 426.93 277.57 426.17 277.35 425.40 C277.13 424.63 277.17 423.87 276.95 423.10 C276.73 422.33 276.48 421.57 276.05 420.80 C275.62 420.03 274.78 419.22 274.35 418.50 C273.92 417.78 273.48 417.15 273.45 416.50 C273.42 415.85 273.78 415.30 274.15 414.60 C274.52 413.90 275.08 412.93 275.65 412.30 C276.22 411.67 276.92 411.32 277.55 410.80 C278.18 410.28 278.73 409.72 279.45 409.20 C280.17 408.68 281.33 408.15 281.85 407.70 C282.38 407.25 282.47 406.95 282.60 406.50 C282.73 406.05 282.63 405.57 282.64 405.00 C282.65 404.43 282.67 403.42 282.68 403.10 Z" fill="#66eaff" stroke="#333333" stroke-width="1" stroke-linejoin="round"/><circle cx="282.80" cy="415.80" r="1.35" fill="#2e2e2e"/><circle cx="282.80" cy="416.90" r="1.35" fill="#2e2e2e"/><circle cx="282.80" cy="426.30" r="1.35" fill="#2e2e2e"/><path d="M303.10 414.40 Q312.90 411.80 322.70 414.40 Q312.90 417.80 303.10 414.40 Z" fill="#66e4ff" stroke="#333333" stroke-width="1" stroke-linejoin="round"/><circle cx="312.90" cy="413.30" r="1.35" fill="#2e2e2e"/><circle cx="312.90" cy="414.60" r="1.35" fill="#2e2e2e"/><circle cx="312.90" cy="415.90" r="1.35" fill="#2e2e2e"/><path d="M342.98 304.30 C342.99 304.92 342.97 306.88 343.02 308.00 C343.08 309.12 343.10 310.00 343.31 311.00 C343.52 312.00 343.88 313.00 344.31 314.00 C344.74 315.00 345.33 315.83 345.91 317.00 C346.49 318.17 347.18 319.57 347.81 321.00 C348.44 322.43 349.14 323.77 349.71 325.60 C350.28 327.43 350.83 329.73 351.21 332.00 C351.59 334.27 351.99 337.03 352.01 339.20 C352.03 341.37 351.69 343.02 351.31 345.00 C350.93 346.98 350.28 349.27 349.71 351.10 C349.14 352.93 348.51 354.28 347.91 356.00 C347.31 357.72 346.64 359.73 346.11 361.40 C345.58 363.07 345.13 364.58 344.71 366.00 C344.29 367.42 343.88 368.57 343.61 369.90 C343.34 371.23 343.17 372.30 343.06 374.00 C342.95 375.70 342.99 379.08 342.98 380.10 L342.74 380.10 C342.73 379.08 342.77 375.70 342.66 374.00 C342.56 372.30 342.38 371.23 342.11 369.90 C341.84 368.57 341.43 367.42 341.01 366.00 C340.59 364.58 340.14 363.07 339.61 361.40 C339.08 359.73 338.41 357.72 337.81 356.00 C337.21 354.28 336.58 352.93 336.01 351.10 C335.44 349.27 334.79 346.98 334.41 345.00 C334.03 343.02 333.69 341.37 333.71 339.20 C333.73 337.03 334.13 334.27 334.51 332.00 C334.89 329.73 335.44 327.43 336.01 325.60 C336.58 323.77 337.28 322.43 337.91 321.00 C338.54 319.57 339.23 318.17 339.81 317.00 C340.39 315.83 340.98 315.00 341.41 314.00 C341.84 313.00 342.20 312.00 342.41 311.00 C342.62 310.00 342.64 309.12 342.70 308.00 C342.75 306.88 342.73 304.92 342.74 304.30 Z" fill="#66dcff" stroke="#333333" stroke-width="1" stroke-linejoin="round"/><circle cx="342.86" cy="328.60" r="1.35" fill="#2e2e2e"/><circle cx="342.86" cy="340.90" r="1.35" fill="#2e2e2e"/><circle cx="342.86" cy="353.30" r="1.35" fill="#2e2e2e"/><path d="M374.14 304.30 C374.44 304.75 375.32 306.03 375.94 307.00 C376.56 307.97 377.01 308.73 377.84 310.10 C378.67 311.47 380.24 313.33 380.94 315.20 C381.64 317.07 382.17 319.27 382.04 321.30 C381.91 323.33 380.82 325.87 380.14 327.40 C379.46 328.93 378.66 329.50 377.94 330.50 C377.22 331.50 376.41 332.57 375.84 333.40 C375.27 334.23 374.91 334.82 374.54 335.50 C374.17 336.18 373.88 336.75 373.64 337.50 C373.40 338.25 373.19 338.48 373.09 340.00 C372.98 341.52 373.02 345.50 373.01 346.60 L372.77 346.60 C372.76 345.50 372.80 341.52 372.69 340.00 C372.58 338.48 372.38 338.25 372.14 337.50 C371.90 336.75 371.61 336.18 371.24 335.50 C370.87 334.82 370.51 334.23 369.94 333.40 C369.37 332.57 368.56 331.50 367.84 330.50 C367.12 329.50 366.32 328.93 365.64 327.40 C364.96 325.87 363.87 323.33 363.74 321.30 C363.61 319.27 364.14 317.07 364.84 315.20 C365.54 313.33 367.11 311.47 367.94 310.10 C368.77 308.73 369.22 307.97 369.84 307.00 C370.46 306.03 371.34 304.75 371.64 304.30 Z" fill="#64b4ff" stroke="#333333" stroke-width="1" stroke-linejoin="round"/><circle cx="372.89" cy="313.70" r="1.35" fill="#2e2e2e"/><circle cx="372.89" cy="321.80" r="1.35" fill="#2e2e2e"/><circle cx="372.89" cy="329.20" r="1.35" fill="#2e2e2e"/><path d="M403.04 304.50 C403.05 304.72 403.03 305.40 403.12 305.80 C403.21 306.20 403.06 306.12 403.57 306.90 C404.08 307.68 405.19 308.95 406.17 310.50 C407.15 312.05 408.45 314.32 409.47 316.20 C410.49 318.08 412.17 320.18 412.27 321.80 C412.37 323.42 411.12 324.55 410.07 325.90 C409.02 327.25 407.00 328.82 405.97 329.90 C404.94 330.98 404.35 331.72 403.87 332.40 C403.39 333.08 403.26 333.20 403.12 334.00 C402.98 334.80 403.05 336.67 403.04 337.20 L402.80 337.20 C402.79 336.67 402.86 334.80 402.72 334.00 C402.58 333.20 402.45 333.08 401.97 332.40 C401.50 331.72 400.90 330.98 399.87 329.90 C398.84 328.82 396.82 327.25 395.77 325.90 C394.72 324.55 393.47 323.42 393.57 321.80 C393.67 320.18 395.35 318.08 396.37 316.20 C397.39 314.32 398.69 312.05 399.67 310.50 C400.65 308.95 401.76 307.68 402.27 306.90 C402.78 306.12 402.63 306.20 402.72 305.80 C402.81 305.40 402.79 304.72 402.80 304.50 Z" fill="#628aff" stroke="#333333" stroke-width="1" stroke-linejoin="round"/><circle cx="402.92" cy="314.40" r="1.35" fill="#2e2e2e"/><circle cx="402.92" cy="321.40" r="1.35" fill="#2e2e2e"/><circle cx="402.92" cy="324.90" r="1.35" fill="#2e2e2e"/><path d="M423.30 323.00 Q433.10 320.30 442.90 323.00 Q433.10 327.60 423.30 323.00 Z" fill="#7468fc" stroke="#333333" stroke-width="1" stroke-linejoin="round"/><circle cx="433.10" cy="322.20" r="1.35" fill="#2e2e2e"/><circle cx="433.10" cy="323.60" r="1.35" fill="#2e2e2e"/><circle cx="433.10" cy="325.00" r="1.35" fill="#2e2e2e"/><path d="M463.10 305.10 C463.11 305.50 463.07 306.83 463.14 307.50 C463.21 308.17 463.03 307.98 463.53 309.10 C464.03 310.22 465.25 312.35 466.13 314.20 C467.01 316.05 468.05 318.48 468.83 320.20 C469.61 321.92 470.26 323.15 470.83 324.50 C471.40 325.85 472.20 327.22 472.23 328.30 C472.26 329.38 471.50 330.15 471.03 331.00 C470.56 331.85 470.16 332.57 469.43 333.40 C468.70 334.23 467.45 335.17 466.63 336.00 C465.81 336.83 465.10 337.65 464.53 338.40 C463.96 339.15 463.46 339.40 463.22 340.50 C462.98 341.60 463.12 344.25 463.10 345.00 L462.86 345.00 C462.84 344.25 462.98 341.60 462.74 340.50 C462.50 339.40 462.00 339.15 461.43 338.40 C460.86 337.65 460.15 336.83 459.33 336.00 C458.51 335.17 457.26 334.23 456.53 333.40 C455.80 332.57 455.40 331.85 454.93 331.00 C454.46 330.15 453.70 329.38 453.73 328.30 C453.76 327.22 454.56 325.85 455.13 324.50 C455.70 323.15 456.35 321.92 457.13 320.20 C457.91 318.48 458.95 316.05 459.83 314.20 C460.71 312.35 461.93 310.22 462.43 309.10 C462.93 307.98 462.75 308.17 462.82 307.50 C462.89 306.83 462.85 305.50 462.86 305.10 Z" fill="#9062ff" stroke="#333333" stroke-width="1" stroke-linejoin="round"/><circle cx="462.98" cy="318.70" r="1.35" fill="#2e2e2e"/><circle cx="462.98" cy="327.50" r="1.35" fill="#2e2e2e"/><circle cx="462.98" cy="331.10" r="1.35" fill="#2e2e2e"/><text x="282.80" y="398.60" font-size="10.00" text-anchor="middle" font-weight="normal" fill="#111" stroke="#111" stroke-width="0.00" >c</text><text x="312.83" y="400.00" font-size="10.00" text-anchor="middle" font-weight="normal" fill="#111" stroke="#111" stroke-width="0.00" >c</text><text x="342.86" y="298.70" font-size="10.00" text-anchor="middle" font-weight="normal" fill="#111" stroke="#111" stroke-width="0.00" >b</text><text x="372.89" y="299.60" font-size="10.00" text-anchor="middle" font-weight="normal" fill="#111" stroke="#111" stroke-width="0.00" >a</text><text x="402.92" y="297.10" font-size="10.00" text-anchor="middle" font-weight="normal" fill="#111" stroke="#111" stroke-width="0.00" >a</text><text x="432.95" y="309.00" font-size="10.00" text-anchor="middle" font-weight="normal" fill="#111" stroke="#111" stroke-width="0.00" >a</text><text x="462.98" y="296.80" font-size="10.00" text-anchor="middle" font-weight="normal" fill="#111" stroke="#111" stroke-width="0.00" >a</text></svg></body></html>
